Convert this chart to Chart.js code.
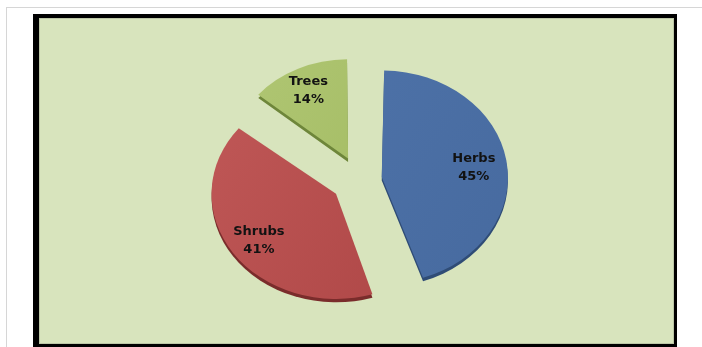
<!DOCTYPE html>
<html>
<head>
<meta charset="utf-8">
<script src="https://cdn.jsdelivr.net/npm/chart.js@4"></script>
<style>
  html, body { margin: 0; padding: 0; background: #fff; }
  body { width: 702px; height: 347px; position: relative; overflow: hidden; }
  .frame { position: absolute; left: 6px; top: 7px; right: 0; bottom: 0; border-top: 1px solid #d6d6d6; border-left: 1px solid #d6d6d6; }
  .box { position: absolute; left: 33px; top: 14px; width: 644px; height: 333px; background: #000; }
  .plot { position: absolute; left: 6px; top: 4px; width: 633px; height: 324px; background: #d8e4bd; border: 1px solid #bcc6a6; }
  canvas { position: absolute; left: 0; top: 0; }
</style>
</head>
<body>
<div class="frame"></div>
<div class="box">
  <div class="plot"><canvas id="pie" width="633" height="324"></canvas></div>
</div>
<script>
const categories = ["Herbs", "Shrubs", "Trees"];
const shares = [45, 41, 14];

const faceTop = ["#5075ab", "#c25a59", "#b3c978"];
const faceBottom = ["#44679c", "#a63f3f", "#98b253"];
const sideColor = ["#2f4c76", "#7a2c2b", "#6e863a"];
const sliceOffsets = [88, 116, 112];

const tilt = 0.845;   // squash the pie so it looks tilted
const depth = 4;      // thickness of the pie edge
const labelPos = 0.84;

const sliceFill = (c) => {
  const { chart, dataIndex } = c;
  const area = chart.chartArea;
  if (!area) return faceTop[dataIndex];
  const g = chart.ctx.createLinearGradient(area.left, area.top, area.right, area.bottom);
  g.addColorStop(0.2, faceTop[dataIndex]);
  g.addColorStop(0.9, faceBottom[dataIndex]);
  return g;
};

const tiltPlugin = {
  id: "tilt",
  beforeDatasetsDraw(chart) {
    const ctx = chart.ctx;
    const arcs = chart.getDatasetMeta(0).data;
    const cy = arcs[0].y;
    ctx.save();
    ctx.translate(0, cy);
    ctx.scale(1, tilt);
    ctx.translate(0, -cy);
    // darker copy underneath = side wall
    arcs.forEach((arc, i) => {
      const side = Object.create(arc);
      side.options = Object.assign({}, arc.options, { backgroundColor: sideColor[i], borderWidth: 0 });
      ctx.save();
      ctx.translate(0, depth);
      side.draw(ctx);
      ctx.restore();
    });
  },
  afterDatasetsDraw(chart) {
    const ctx = chart.ctx;
    const arcs = chart.getDatasetMeta(0).data;
    ctx.font = 'bold 13px "DejaVu Sans"';
    ctx.fillStyle = "#121212";
    ctx.textAlign = "center";
    ctx.textBaseline = "middle";
    arcs.forEach((arc, i) => {
      const { x, y, startAngle, endAngle, outerRadius } =
        arc.getProps(["x", "y", "startAngle", "endAngle", "outerRadius"], true);
      const mid = (startAngle + endAngle) / 2;
      const d = arc.options.offset / 4 + outerRadius * labelPos;
      ctx.save();
      ctx.translate(x + Math.cos(mid) * d, y + Math.sin(mid) * d);
      ctx.scale(1, 1 / tilt);
      ctx.fillText(categories[i], 0, -6);
      ctx.fillText(shares[i] + "%", 0, 12);
      ctx.restore();
    });
    ctx.restore();
  }
};

new Chart(document.getElementById("pie"), {
  type: "pie",
  data: {
    labels: categories,
    datasets: [{
      data: shares,
      backgroundColor: sliceFill,
      borderWidth: 0,
      offset: sliceOffsets,
      radius: 111
    }]
  },
  options: {
    responsive: false,
    animation: false,
    events: [],
    layout: { padding: { left: 7, bottom: 2 } },
    plugins: {
      legend: { display: false },
      tooltip: { enabled: false }
    }
  },
  plugins: [tiltPlugin]
});
</script>
</body>
</html>
